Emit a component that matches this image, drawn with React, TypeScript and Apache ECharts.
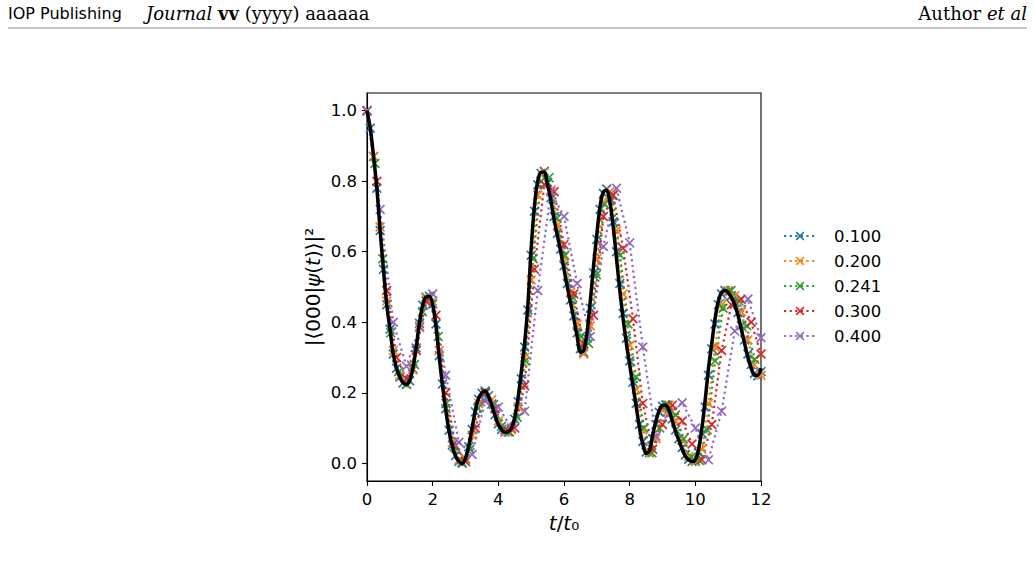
import React, { useEffect, useRef } from 'react';
import * as echarts from 'echarts';

// ---------------- data ----------------
const xTicks = [0, 2, 4, 6, 8, 10, 12];
const yTicks = [0, 0.2, 0.4, 0.6, 0.8, 1.0];
const seriesNames = ['0.100', '0.200', '0.241', '0.300', '0.400'];
const seriesColors = ['#1f77b4', '#ff7f0e', '#2ca02c', '#d62728', '#9467bd'];
const sampleSteps = [0.1, 0.2, 0.241, 0.3, 0.4];
const exactStep = 0.1;

// exact evolution (black line), t = 0, 0.1, ..., 12
const exact = [
  1.00, 0.95, 0.87, 0.78, 0.66, 0.55, 0.45, 0.38, 0.31, 0.27,
  0.245, 0.228, 0.224, 0.235, 0.27, 0.33, 0.40, 0.45, 0.472, 0.473,
  0.45, 0.39, 0.30, 0.22, 0.15, 0.09, 0.05, 0.02, 0.005, 0.0,
  0.015, 0.05, 0.10, 0.15, 0.185, 0.20, 0.205, 0.19, 0.165, 0.135,
  0.11, 0.095, 0.088, 0.09, 0.10, 0.13, 0.185, 0.26, 0.34, 0.45,
  0.61, 0.73, 0.80, 0.825, 0.825, 0.79, 0.745, 0.69, 0.645, 0.60,
  0.55, 0.50, 0.455, 0.41, 0.36, 0.315, 0.32, 0.37, 0.46, 0.56,
  0.65, 0.73, 0.77, 0.775, 0.74, 0.67, 0.58, 0.49, 0.41, 0.34,
  0.28, 0.22, 0.16, 0.10, 0.055, 0.028, 0.035, 0.08, 0.12, 0.15,
  0.165, 0.165, 0.15, 0.12, 0.09, 0.065, 0.04, 0.02, 0.01, 0.005,
  0.01, 0.04, 0.10, 0.18, 0.27, 0.34, 0.41, 0.46, 0.485, 0.49,
  0.485, 0.47, 0.45, 0.42, 0.38, 0.34, 0.30, 0.27, 0.25, 0.25,
  0.27,
];

// step 0.100
const s100 = [
  1.00, 0.95, 0.87, 0.78, 0.66, 0.55, 0.45, 0.38, 0.31, 0.27,
  0.245, 0.228, 0.224, 0.234, 0.268, 0.327, 0.397, 0.448, 0.471, 0.474,
  0.452, 0.395, 0.305, 0.225, 0.155, 0.094, 0.052, 0.022, 0.006, 0.0,
  0.013, 0.047, 0.096, 0.146, 0.182, 0.199, 0.205, 0.192, 0.168, 0.138,
  0.112, 0.096, 0.089, 0.089, 0.098, 0.125, 0.175, 0.24, 0.33, 0.435,
  0.59, 0.715, 0.79, 0.822, 0.828, 0.797, 0.753, 0.70, 0.652, 0.607,
  0.56, 0.51, 0.463, 0.418, 0.37, 0.325, 0.315, 0.355, 0.44, 0.54,
  0.635, 0.72, 0.765, 0.778, 0.75, 0.685, 0.60, 0.51, 0.425, 0.355,
  0.29, 0.23, 0.17, 0.11, 0.062, 0.032, 0.03, 0.07, 0.11, 0.145,
  0.162, 0.166, 0.155, 0.126, 0.095, 0.07, 0.045, 0.024, 0.012, 0.005,
  0.007, 0.03, 0.085, 0.16, 0.25, 0.325, 0.395, 0.45, 0.48, 0.49,
  0.488, 0.475, 0.455, 0.428, 0.39, 0.35, 0.31, 0.28, 0.255, 0.248,
  0.26,
];

// step 0.200
const s200 = [
  1.00, 0.87, 0.67, 0.46, 0.32, 0.25, 0.224, 0.265, 0.39, 0.468,
  0.46, 0.32, 0.17, 0.06, 0.01, 0.01, 0.08, 0.17, 0.20, 0.18,
  0.12, 0.09, 0.095, 0.16, 0.30, 0.52, 0.76, 0.825, 0.775, 0.675,
  0.585, 0.485, 0.395, 0.31, 0.39, 0.58, 0.74, 0.77, 0.66, 0.48,
  0.335, 0.21, 0.095, 0.03, 0.07, 0.15, 0.165, 0.12, 0.065, 0.02,
  0.005, 0.04, 0.17, 0.33, 0.45, 0.49, 0.475, 0.43, 0.35, 0.28,
  0.25,
];

// step 0.241
const s241 = [
  1.00, 0.85, 0.58, 0.37, 0.26, 0.224, 0.28, 0.43, 0.47, 0.36,
  0.17, 0.047, 0.003, 0.04, 0.157, 0.20, 0.167, 0.105, 0.089, 0.13,
  0.29, 0.58, 0.80, 0.81, 0.695, 0.59, 0.47, 0.36, 0.34, 0.535,
  0.735, 0.76, 0.59, 0.395, 0.245, 0.10, 0.03, 0.10, 0.165, 0.137,
  0.07, 0.018, 0.008, 0.095, 0.29, 0.44, 0.49, 0.46, 0.39, 0.295,
];

// step 0.300
const s300 = [
  1.00, 0.80, 0.49, 0.30, 0.24, 0.32, 0.46, 0.42, 0.20, 0.05,
  0.005, 0.10, 0.20, 0.155, 0.095, 0.10, 0.22, 0.55, 0.79, 0.77,
  0.62, 0.48, 0.34, 0.42, 0.70, 0.76, 0.61, 0.41, 0.17, 0.04,
  0.11, 0.165, 0.12, 0.055, 0.01, 0.11, 0.32, 0.45, 0.465, 0.40,
  0.31,
];

// step 0.400
const s400 = [
  1.00, 0.72, 0.40, 0.275, 0.385, 0.48, 0.25, 0.06, 0.025, 0.176,
  0.16, 0.10, 0.148, 0.49, 0.77, 0.70, 0.51, 0.36, 0.615, 0.78,
  0.625, 0.33, 0.077, 0.14, 0.172, 0.10, 0.01, 0.148, 0.375, 0.466,
  0.356,
];

const sampled = [s100, s200, s241, s300, s400];

// ---------------- chart ----------------
const FONT = 'DejaVu Sans';
const X_PATH = 'path://M0,1.2L1.2,0L10,8.8L8.8,10ZM8.8,0L10,1.2L1.2,10L0,8.8Z';

export default function App() {
  const ref = useRef<HTMLDivElement>(null);

  useEffect(() => {
    if (!ref.current) return;
    const chart = echarts.init(ref.current, undefined, { renderer: 'svg' });

    const colored = sampled.map((vals, k) => ({
      type: 'line',
      name: seriesNames[k],
      data: vals.map((v, i) => [+(i * sampleSteps[k]).toFixed(4), v]),
      symbol: X_PATH,
      symbolSize: 10,
      showAllSymbol: true,
      lineStyle: { color: seriesColors[k], width: 2.2, type: [2.2, 3.4] },
      itemStyle: { color: seriesColors[k] },
      emphasis: { disabled: true },
      z: 2,
    }));

    const option: any = {
      animation: false,
      backgroundColor: '#fff',
      grid: {
        left: 367, top: 93, width: 394, height: 388,
        show: true, borderColor: '#000', borderWidth: 1.1,
      },
      xAxis: {
        type: 'value', min: 0, max: 12, interval: 2,
        axisLine: { show: true, onZero: false, lineStyle: { color: '#000', width: 1.1 } },
        axisTick: { show: true, length: 5, lineStyle: { color: '#000', width: 1.1 } },
        axisLabel: {
          color: '#000', fontSize: 16.5, fontFamily: FONT, margin: 10,
          customValues: xTicks, formatter: (v: number) => String(v),
        },
        splitLine: { show: false },
        name: '{i|t}/{i|t}₀',
        nameLocation: 'middle', nameGap: 28,
        nameTextStyle: {
          color: '#000', fontSize: 20, fontFamily: FONT,
          rich: { i: { fontStyle: 'italic', fontSize: 20, fontFamily: FONT, color: '#000' } },
        },
      },
      yAxis: {
        type: 'value', min: -0.05, max: 1.05,
        axisLine: { show: true, onZero: false, lineStyle: { color: '#000', width: 1.1 } },
        axisTick: { show: true, length: 5, customValues: yTicks, lineStyle: { color: '#000', width: 1.1 } },
        axisLabel: {
          color: '#000', fontSize: 16.5, fontFamily: FONT, margin: 10,
          customValues: yTicks, formatter: (v: number) => v.toFixed(1),
        },
        splitLine: { show: false },
        name: '|⟨000|{i|ψ}({i|t})⟩|²',
        nameLocation: 'middle', nameGap: 44, nameRotate: 90,
        nameTextStyle: {
          color: '#000', fontSize: 20, fontFamily: FONT,
          rich: { i: { fontStyle: 'italic', fontSize: 20, fontFamily: FONT, color: '#000' } },
        },
      },
      legend: {
        data: seriesNames,
        orient: 'vertical', left: 783, top: 227, padding: 0,
        itemWidth: 32, itemHeight: 11, itemGap: 7,
        selectedMode: false,
        textStyle: { color: '#000', fontSize: 16.5, fontFamily: FONT, lineHeight: 18, padding: [0, 0, 0, 13] },
      },
      series: [
        ...colored,
        {
          type: 'line', name: 'exact',
          data: exact.map((v, i) => [+(i * exactStep).toFixed(4), v]),
          showSymbol: false, smooth: 0.3,
          lineStyle: { color: '#000', width: 3.5 },
          emphasis: { disabled: true },
          z: 3,
        },
      ],
      graphic: [
        {
          type: 'text', x: 8, y: 13,
          style: { text: 'IOP Publishing', fontSize: 16, fontFamily: 'DejaVu Sans', fill: '#000', verticalAlign: 'middle' },
        },
        {
          type: 'text', x: 146, y: 13,
          style: {
            text: '{it|Journal} {b|vv} (yyyy) aaaaaa',
            fontSize: 18, fontFamily: 'DejaVu Serif', fill: '#000', verticalAlign: 'middle',
            rich: {
              it: { fontStyle: 'italic', fontSize: 18, fontFamily: 'DejaVu Serif' },
              b: { fontWeight: 'bold', fontSize: 18, fontFamily: 'DejaVu Serif' },
            },
          },
        },
        {
          type: 'text', x: 1027, y: 13,
          style: {
            text: 'Author {it|et al}',
            fontSize: 18, fontFamily: 'DejaVu Serif', fill: '#000', align: 'right', verticalAlign: 'middle',
            rich: { it: { fontStyle: 'italic', fontSize: 18, fontFamily: 'DejaVu Serif' } },
          },
        },
        {
          type: 'line', shape: { x1: 8, y1: 28, x2: 1027, y2: 28 },
          style: { stroke: '#888', lineWidth: 1 },
        },
      ],
    };

    chart.setOption(option);
    return () => chart.dispose();
  }, []);

  return <div ref={ref} style={{ position: 'fixed', left: 0, top: 0, width: 1034, height: 570 }} />;
}
